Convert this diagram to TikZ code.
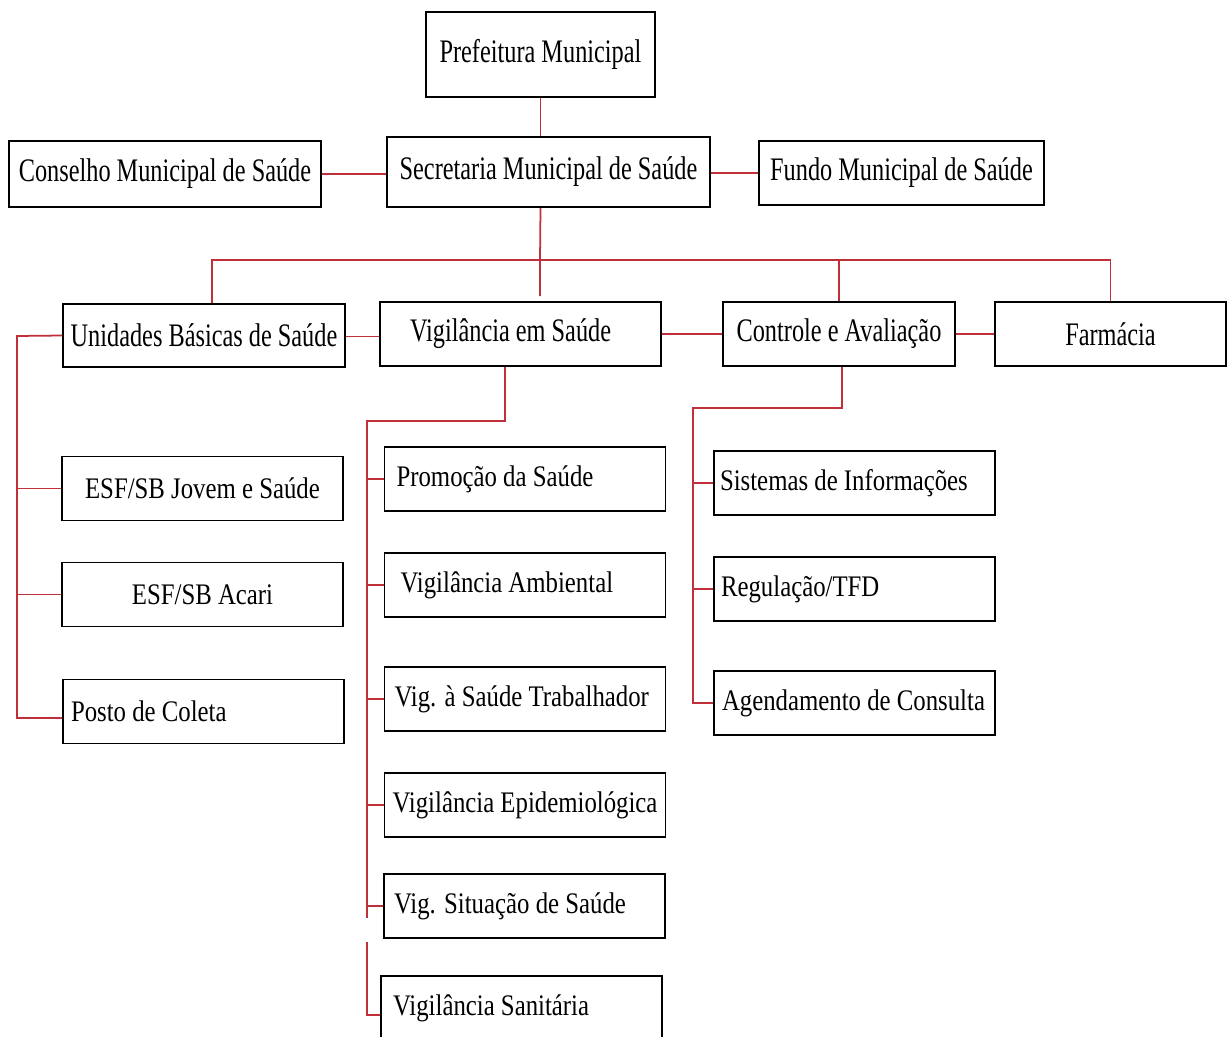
\documentclass[tikz,border=0pt]{standalone}
\usepackage{fontspec}
\setmainfont{Liberation Serif}
\newfontfamily\headserif[FakeStretch=0.74]{Liberation Serif}
\newfontfamily\subserif[FakeStretch=0.83]{Liberation Serif}
\definecolor{linkred}{RGB}{192,48,58}
\tikzset{
  unit/.style={draw, line width=1pt, inner ysep=0pt},
  headbox/.style={unit, font=\headserif\fontsize{18.7}{20}\selectfont, align=center, inner xsep=0pt},
  subbox/.style={unit, font=\subserif\fontsize{17}{19}\selectfont, minimum height=1.28cm, text width=5.3cm, inner xsep=0.16cm, align=flush left},
  link/.style={draw=linkred, line width=1pt}
}

\begin{document}
\begin{tikzpicture}[x=0.02cm,y=-0.02cm]
\useasboundingbox (0,0) rectangle (1227,1037);
% top of the chart
\node[headbox, minimum width=4.58cm, minimum height=1.7cm] (pref) at (540.5,54.5) {Prefeitura Municipal};
\node[headbox, minimum width=6.46cm, minimum height=1.4cm] (sec) at (548.5,172) {Secretaria Municipal de Saúde};
\node[headbox, minimum width=6.24cm, minimum height=1.32cm] (cons) at (165,174) {Conselho Municipal de Saúde};
\node[headbox, minimum width=5.7cm, minimum height=1.28cm] (fundo) at (901.5,173) {Fundo Municipal de Saúde};
\draw[link] (pref.south) -- (pref.south |- sec.north);
\draw[link] (cons.east) -- (cons.east -| sec.west);
\draw[link] (fundo.west -| sec.east) -- (fundo.west);
% second level
\node[headbox, minimum width=5.64cm, minimum height=1.26cm] (ubs) at (204,335.5) {Unidades Básicas de Saúde};
\node[headbox, minimum height=1.28cm, text width=4.42cm, inner xsep=0.6cm, align=flush left] (vig) at (520.5,334) {Vigilância em Saúde};
\node[headbox, minimum width=4.64cm, minimum height=1.28cm] (ctrl) at (839,334) {Controle e Avaliação};
\node[headbox, minimum width=4.62cm, minimum height=1.28cm] (farm) at (1110.5,334) {Farmácia};
\coordinate (bus) at (540,260);
\draw[link] (pref.south |- sec.south) -- (bus) -- ++(0,36);
\draw[link] ([xshift=0.16cm]ubs.north) |- (bus) -| (farm.north);
\draw[link] (bus -| ctrl.north) -- (ctrl.north);
\draw[link] ([yshift=-0.02cm]ubs.east) -- ([yshift=-0.02cm]ubs.east -| vig.west);
\draw[link] (vig.east) -- (vig.east -| ctrl.west);
\draw[link] (ctrl.east) -- (ctrl.east -| farm.west);
% basic units
\node[subbox, align=flush center] (jov) at (202.5,488.5) {ESF/SB Jovem e Saúde};
\node[subbox, align=flush center] (acari) at (202.5,594.5) {ESF/SB Acari};
\node[subbox] (posto) at (203.5,711.5) {Posto de Coleta};
\coordinate (lrail) at (17,336);
\draw[link] (ubs.west) -- (lrail) |- ([yshift=-0.13cm]posto.west);
\draw[link] (lrail |- jov.west) -- (jov.west);
\draw[link] (lrail |- acari.west) -- (acari.west);
% surveillance
\node[subbox, inner xsep=0.24cm, text width=5.14cm] (prom) at (525,479) {Promoção da Saúde};
\node[subbox, inner xsep=0.32cm, text width=4.98cm] (amb) at (525,585) {Vigilância Ambiental};
\node[subbox, inner xsep=0.2cm, text width=5.22cm] (trab) at (525,699) {Vig. à Saúde Trabalhador};
\node[subbox] (epi) at (525,805) {Vigilância Epidemiológica};
\node[subbox, inner xsep=0.2cm, text width=5.22cm] (sit) at (524.5,906) {Vig. Situação de Saúde};
\node[subbox, inner xsep=0.24cm, text width=5.14cm] (san) at (521.5,1008) {Vigilância Sanitária};
\coordinate (mrail) at (367,421);
\coordinate (mcut) at (367,918);
\coordinate (mgo) at (367,942);
\draw[link] ([xshift=-0.31cm]vig.south) |- (mrail) -- (mcut);
\draw[link] (mgo) |- ([yshift=-0.14cm]san.west);
\foreach \n in {prom,amb,trab,epi,sit}
  \draw[link] (mrail |- \n.west) -- (\n.west);
% control
\node[subbox, inner xsep=0.12cm, text width=5.38cm] (sis) at (854.5,483) {Sistemas de Informações};
\node[subbox, inner xsep=0.14cm, text width=5.34cm] (reg) at (854.5,589) {Regulação/TFD};
\node[subbox] (agen) at (854.5,703) {Agendamento de Consulta};
\coordinate (rrail) at (693,408);
\draw[link] ([xshift=0.06cm]ctrl.south) |- (rrail) |- (agen.west);
\draw[link] (rrail |- sis.west) -- (sis.west);
\draw[link] (rrail |- reg.west) -- (reg.west);
\end{tikzpicture}
\end{document}
